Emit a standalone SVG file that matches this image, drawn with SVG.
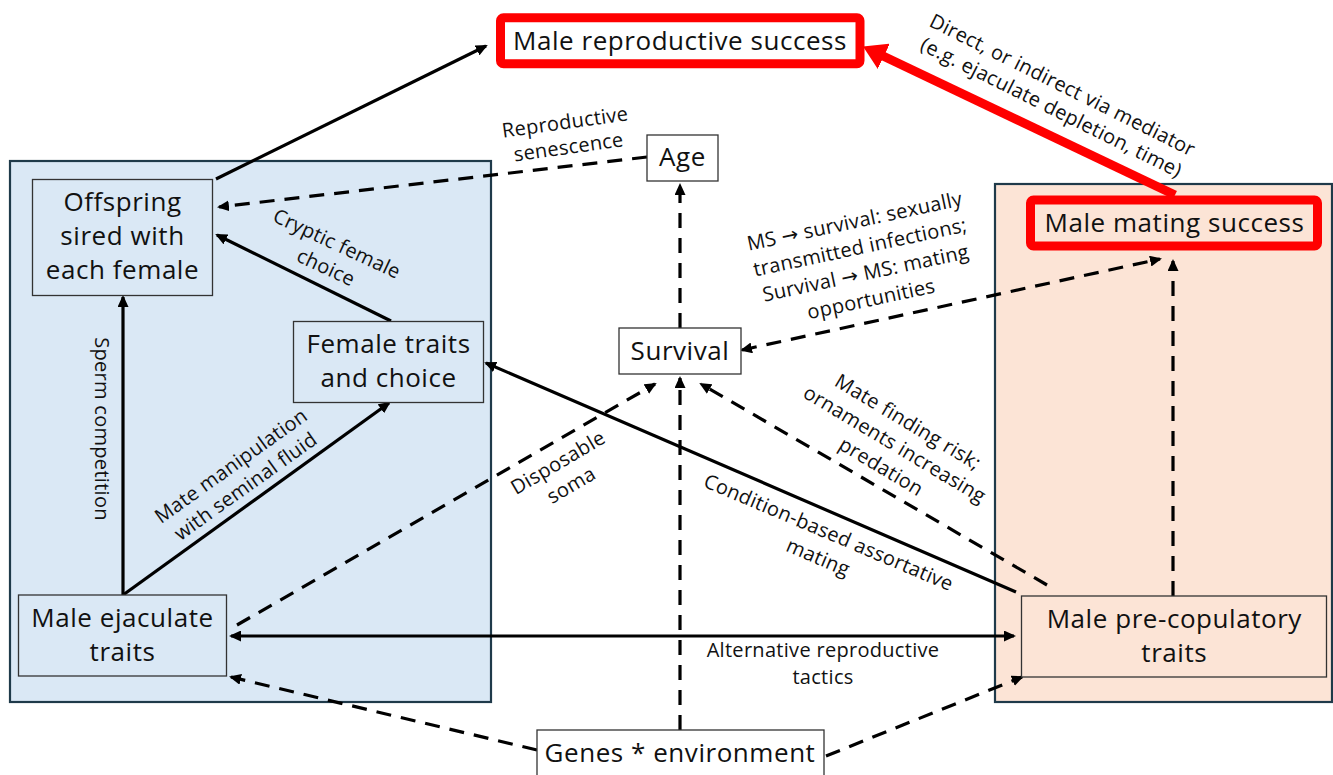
<svg xmlns="http://www.w3.org/2000/svg" width="1333" height="775" viewBox="0 0 1333 775">
<style>
.panel{stroke:#1F3A4A;stroke-width:2.2}
.node{stroke:#333;stroke-width:1.3}
.hl{fill:none;stroke:#FF0000;stroke-width:9}
.nt{font-family:"Open Sans","DejaVu Sans",sans-serif;font-size:26px;letter-spacing:0.55px;fill:#111;text-anchor:middle}
.lt{font-family:"Open Sans","DejaVu Sans",sans-serif;font-size:20px;letter-spacing:0.3px;fill:#111;text-anchor:middle}
.c{fill:none;stroke:#000;stroke-width:3.2}
.d{stroke-dasharray:15 10}
</style>
<defs>
<marker id="ah" markerUnits="userSpaceOnUse" markerWidth="12" markerHeight="11" viewBox="0 0 12 11" refX="10" refY="5.5" orient="auto-start-reverse">
<path d="M0,0 L12,5.5 L0,11 z" fill="#000"/>
</marker>
<marker id="rh" markerUnits="userSpaceOnUse" markerWidth="24" markerHeight="28" viewBox="0 0 24 28" refX="2" refY="14" orient="auto">
<path d="M0,0 L23,14 L0,28 z" fill="#FF0000"/>
</marker>
</defs>
<rect x="0" y="0" width="1333" height="775" fill="#fff"/>
<g id="panel-post">
<rect class="panel" x="10" y="161" width="481" height="541" fill="#DAE8F5"/>
</g>
<g id="panel-pre">
<rect class="panel" x="995" y="184" width="337" height="518" fill="#FCE4D6"/>
</g>
<g id="connectors">
<path class="c" d="M216,179 L486,46" marker-end="url(#ah)"/>
<path class="c d" d="M647,157 L219,207" marker-end="url(#ah)"/>
<path class="c" d="M391,321 L217,235" marker-end="url(#ah)"/>
<path class="c" d="M123,595 L123,297" marker-end="url(#ah)"/>
<path class="c" d="M123,595 L389,403" marker-end="url(#ah)"/>
<path class="c" d="M231,636 L1014,636" marker-start="url(#ah)" marker-end="url(#ah)"/>
<path class="c d" d="M537,750 L231,677" marker-end="url(#ah)"/>
<path class="c d" d="M826,756 L1022,677" marker-end="url(#ah)"/>
<path class="c d" d="M680,730 L680,378" marker-end="url(#ah)"/>
<path class="c d" d="M237,625 L655,384" marker-end="url(#ah)"/>
<path class="c d" d="M1047,585 L701,384" marker-end="url(#ah)"/>
<path class="c" d="M1016,592 L486,363" marker-end="url(#ah)"/>
<path class="c d" d="M742,350 L1160,259" marker-start="url(#ah)" marker-end="url(#ah)"/>
<path class="c d" d="M680,328 L680,185" marker-end="url(#ah)"/>
<path class="c d" d="M1173,596 L1173,261" marker-end="url(#ah)"/>
<path d="M1175,195 L882,55.5" fill="none" stroke="#FF0000" stroke-width="9" marker-end="url(#rh)"/>
</g>
<g id="labels">
<text class="lt" transform="translate(566,129) rotate(-8)"><tspan x="0" dy="0">Reproductive</tspan><tspan x="0" dy="25">senescence</tspan></text>
<text class="lt" transform="translate(334,250) rotate(25)"><tspan x="0" dy="0">Cryptic female</tspan><tspan x="0" dy="26">choice</tspan></text>
<text class="lt" transform="translate(95,429) rotate(90)">Sperm competition</text>
<text class="lt" transform="translate(235,471.5) rotate(-35.5)"><tspan x="0" dy="0">Mate manipulation</tspan><tspan x="0" dy="25">with seminal fluid</tspan></text>
<text class="lt" transform="translate(561.5,468.5) rotate(-30.5)"><tspan x="0" dy="0">Disposable</tspan><tspan x="0" dy="26">soma</tspan></text>
<text class="lt" transform="translate(904.5,427.8) rotate(31)"><tspan x="0" dy="0">Mate finding risk;</tspan><tspan x="0" dy="26">ornaments increasing</tspan><tspan x="0" dy="26">predation</tspan></text>
<text class="lt" transform="translate(826,538.8) rotate(23)"><tspan x="0" dy="0">Condition-based assortative</tspan><tspan x="0" dy="27">mating</tspan></text>
<text class="lt" x="823" y="657"><tspan x="823" dy="0">Alternative reproductive</tspan><tspan x="823" dy="26.5">tactics</tspan></text>
<text class="lt" transform="translate(856,228) rotate(-12)"><tspan x="0" dy="0">MS → survival: sexually</tspan><tspan x="0" dy="26.5">transmitted infections;</tspan><tspan x="0" dy="26.5">Survival → MS: mating</tspan><tspan x="0" dy="26.5">opportunities</tspan></text>
<text class="lt" transform="translate(1059.5,91.2) rotate(26.5)"><tspan x="0" dy="0">Direct, or indirect via mediator</tspan><tspan x="0" dy="25">(e.g. ejaculate depletion, time)</tspan></text>
</g>
<g id="node-male-repro">
<rect x="500.5" y="17.8" width="359.5" height="46" rx="3" fill="#fff" class="hl"/>
<text class="nt" x="680" y="50">Male reproductive success</text>
</g>
<g id="node-male-mating">
<rect x="1030.5" y="200" width="287" height="46" rx="3" fill="#FCE4D6" class="hl"/>
<text class="nt" x="1174.5" y="231.5">Male mating success</text>
</g>
<g id="node-age">
<rect class="node" x="647" y="135" width="71" height="46" fill="#fff"/>
<text class="nt" x="682.5" y="165.7">Age</text>
</g>
<g id="node-survival">
<rect class="node" x="619" y="328" width="122" height="46" fill="#fff"/>
<text class="nt" x="680" y="360">Survival</text>
</g>
<g id="node-offspring">
<rect class="node" x="32.5" y="179.5" width="180" height="116" fill="#DAE8F5"/>
<text class="nt" x="122.5" y="211"><tspan x="122.5" dy="0">Offspring</tspan><tspan x="122.5" dy="34.2">sired with</tspan><tspan x="122.5" dy="34.2">each female</tspan></text>
</g>
<g id="node-female">
<rect class="node" x="293.5" y="321.5" width="190" height="81" fill="#DAE8F5"/>
<text class="nt" x="388.5" y="353.3"><tspan x="388.5" dy="0">Female traits</tspan><tspan x="388.5" dy="34">and choice</tspan></text>
</g>
<g id="node-ejaculate">
<rect class="node" x="18.5" y="595" width="208" height="81" fill="#DAE8F5"/>
<text class="nt" x="122.5" y="627.3"><tspan x="122.5" dy="0">Male ejaculate</tspan><tspan x="122.5" dy="33.7">traits</tspan></text>
</g>
<g id="node-precop">
<rect class="node" x="1021.5" y="596" width="305" height="81" fill="#FCE4D6"/>
<text class="nt" x="1174.3" y="628.3"><tspan x="1174.3" dy="0">Male pre-copulatory</tspan><tspan x="1174.3" dy="34">traits</tspan></text>
</g>
<g id="node-genes">
<rect class="node" x="537" y="730" width="287" height="60" fill="#fff"/>
<text class="nt" x="680" y="761.7">Genes * environment</text>
</g>
</svg>
